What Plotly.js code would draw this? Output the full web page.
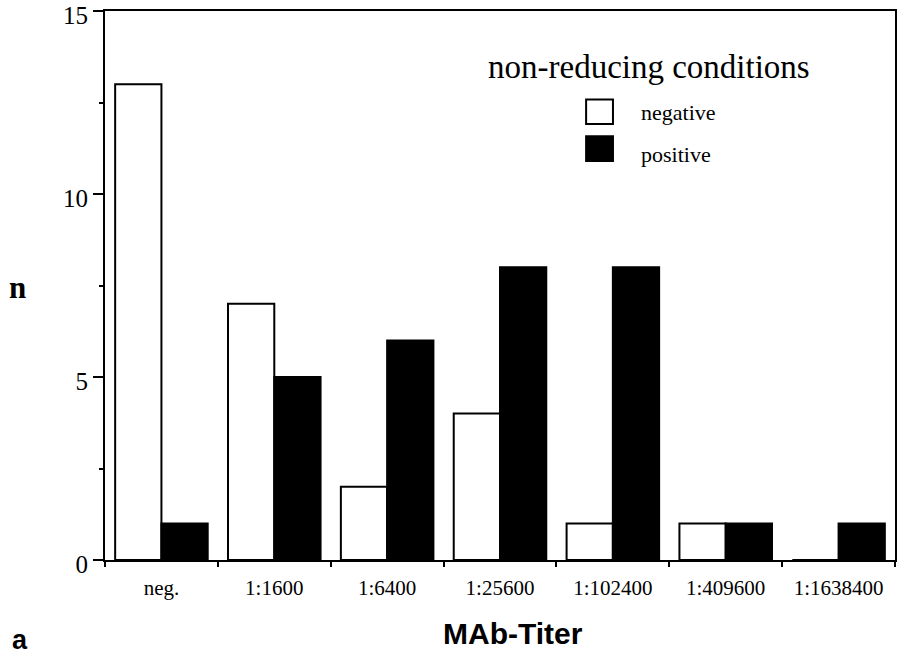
<!DOCTYPE html>
<html>
<head>
<meta charset="utf-8">
<script src="https://cdn.plot.ly/plotly-3.0.1.min.js"></script>
<style>html,body{margin:0;padding:0;background:#fff;}#chart{width:902px;height:658px;}</style>
</head>
<body>
<div id="chart"></div>
<script>
const categories = ["neg.", "1:1600", "1:6400", "1:25600", "1:102400", "1:409600", "1:1638400"];
const negativeCounts = [13, 7, 2, 4, 1, 1, 0];
const positiveCounts = [1, 5, 6, 8, 8, 1, 1];
const seriesNames = ["negative", "positive"];
const legendTitle = "non-reducing conditions";
const xTitle = "MAb-Titer";
const yTitle = "n";
const panelLabel = "a";
const yTickVals = [0, 5, 10, 15];

const serif = "Liberation Serif, Times New Roman, serif";
const sans = "Liberation Sans, Arial, sans-serif";

const traces = [
  {type: "bar", x: categories, y: negativeCounts, name: seriesNames[0],
   marker: {color: "#ffffff", line: {color: "#000000", width: 2}}, showlegend: false},
  {type: "bar", x: categories, y: positiveCounts, name: seriesNames[1],
   marker: {color: "#000000", line: {color: "#000000", width: 2}}, showlegend: false}
];

const layout = {
  width: 902, height: 658,
  margin: {l: 105, r: 7, t: 11, b: 98},
  paper_bgcolor: "#ffffff", plot_bgcolor: "#ffffff",
  barmode: "group", bargap: 0.18, bargroupgap: 0,
  xaxis: {
    type: "category", showgrid: false, zeroline: false,
    showline: true, linecolor: "#000", linewidth: 2, mirror: true,
    ticks: "outside", tickson: "boundaries", ticklen: 5, tickwidth: 2, tickcolor: "#000",
    ticklabelstandoff: 8,
    tickfont: {family: serif, size: 21, color: "#000"}
  },
  yaxis: {
    range: [0, 15], showgrid: false, zeroline: false,
    showline: true, linecolor: "#000", linewidth: 2, mirror: true,
    tickvals: yTickVals, ticks: "outside", ticklen: 10, tickwidth: 2, tickcolor: "#000",
    ticklabeloverflow: "allow", ticklabelshift: 4,
    tickfont: {family: serif, size: 25, color: "#000"},
    minor: {dtick: 2.5, tick0: 0, ticks: "outside", ticklen: 4, tickwidth: 2, tickcolor: "#000", showgrid: false}
  },
  annotations: [
    {text: yTitle, xref: "paper", yref: "paper", x: -0.111, y: 0.496, xanchor: "center", yanchor: "middle",
     showarrow: false, font: {family: serif, size: 31, color: "#000", weight: "bold"}},
    {text: xTitle, xref: "paper", yref: "paper", x: 0.516, y: -0.133, xanchor: "center", yanchor: "middle",
     showarrow: false, font: {family: sans, size: 30, color: "#000", weight: "bold"}},
    {text: panelLabel, xref: "paper", yref: "paper", x: -0.108, y: -0.145, xanchor: "center", yanchor: "middle",
     showarrow: false, font: {family: sans, size: 27, color: "#000", weight: "bold"}},
    {text: legendTitle, xref: "paper", yref: "paper", x: 0.688, y: 0.898, xanchor: "center", yanchor: "middle",
     showarrow: false, font: {family: serif, size: 33, color: "#000"}},
    {text: seriesNames[0], xref: "paper", yref: "paper", x: 0.676, y: 0.815, xanchor: "left", yanchor: "middle",
     showarrow: false, font: {family: serif, size: 22, color: "#000"}},
    {text: seriesNames[1], xref: "paper", yref: "paper", x: 0.676, y: 0.738, xanchor: "left", yanchor: "middle",
     showarrow: false, font: {family: serif, size: 22, color: "#000"}}
  ],
  shapes: [
    {type: "rect", xref: "paper", yref: "paper", x0: 0.609, x1: 0.643, y0: 0.794, y1: 0.839,
     fillcolor: "#fff", line: {color: "#000", width: 2}},
    {type: "rect", xref: "paper", yref: "paper", x0: 0.609, x1: 0.643, y0: 0.727, y1: 0.772,
     fillcolor: "#000", line: {color: "#000", width: 2}}
  ]
};

Plotly.newPlot("chart", traces, layout, {displayModeBar: false, staticPlot: true});
</script>
</body>
</html>
